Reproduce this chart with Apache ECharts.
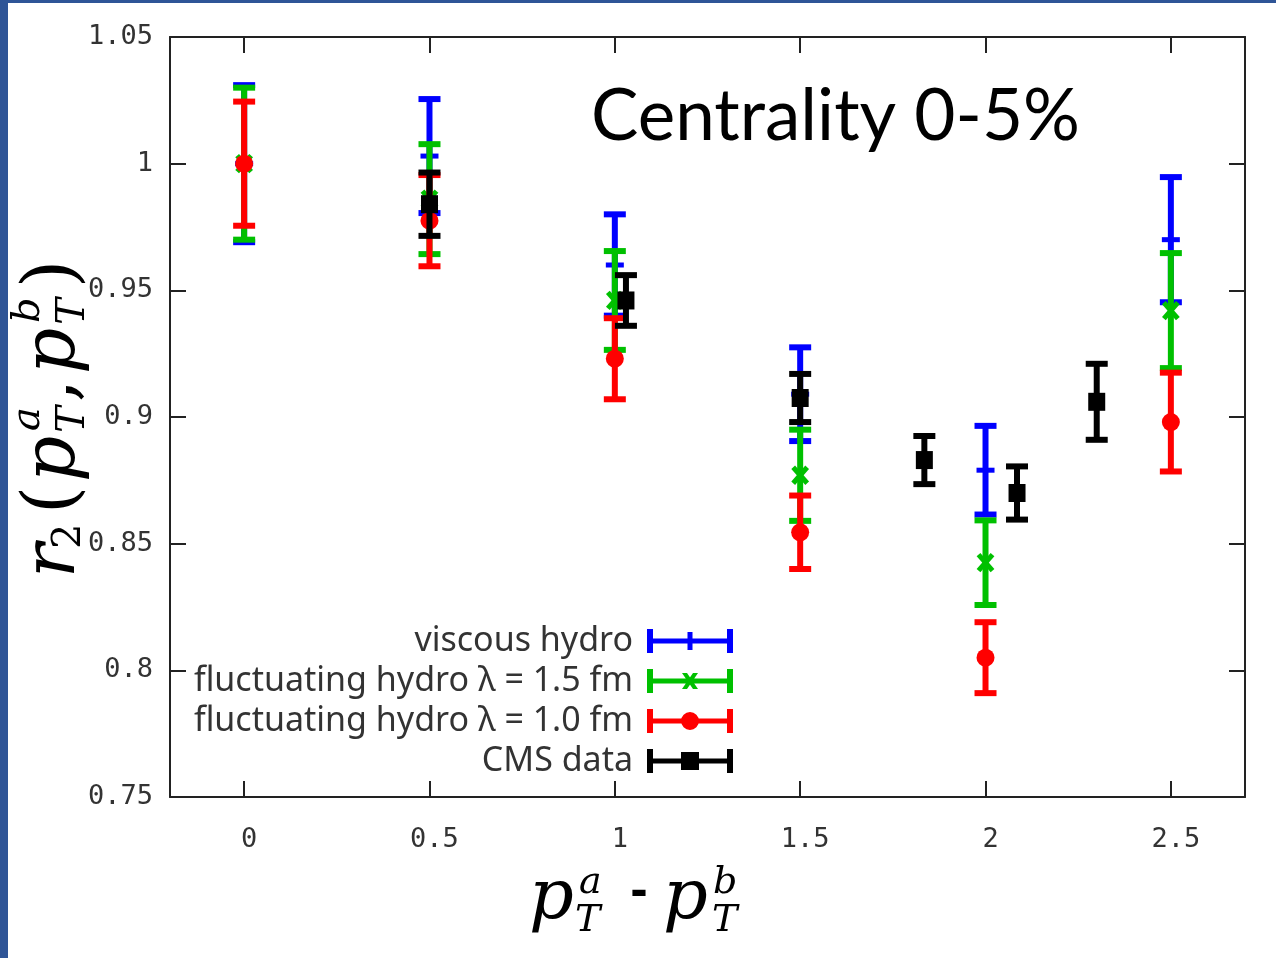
<!DOCTYPE html>
<html>
<head>
<meta charset="utf-8">
<script src="https://cdn.jsdelivr.net/npm/echarts@6/dist/echarts.min.js"></script>
<style>
html,body{margin:0;padding:0;background:#fff;}
#c{width:1276px;height:958px;}
</style>
</head>
<body>
<div id="c"></div>
<script>
// ---- data ----
var xModel = [0, 0.5, 1, 1.5, 2, 2.5];
var viscousVal = [1.000, 1.003, 0.960, 0.909, 0.879, 0.970];
var viscousErr = [0.031, 0.0225, 0.020, 0.0185, 0.0175, 0.0247];
var fluct15Val = [1.000, 0.986, 0.946, 0.877, 0.8425, 0.942];
var fluct15Err = [0.030, 0.0217, 0.0195, 0.018, 0.0167, 0.0227];
var fluct10Val = [1.000, 0.9775, 0.923, 0.8545, 0.805, 0.898];
var fluct10Err = [0.0245, 0.018, 0.016, 0.0145, 0.014, 0.0195];
var cmsX = [0.5, 1.03, 1.5, 1.835, 2.085, 2.3];
var cmsVal = [0.984, 0.946, 0.9075, 0.883, 0.870, 0.906];
var cmsErr = [0.0125, 0.010, 0.0095, 0.0095, 0.0105, 0.015];
var xTicks = [0, 0.5, 1, 1.5, 2, 2.5];
var seriesNames = ['viscous hydro', 'fluctuating hydro \u03bb = 1.5 fm', 'fluctuating hydro \u03bb = 1.0 fm', 'CMS data'];
var titleText = 'Centrality 0-5%';

function pack(xs, vs, es) {
  return xs.map(function (x, i) { return [x, vs[i], es[i]]; });
}

function errRender(color, mark, capW, lw) {
  return function (params, api) {
    var x = api.value(0), y = api.value(1), e = api.value(2);
    var c = api.coord([x, y]), hi = api.coord([x, y + e]), lo = api.coord([x, y - e]);
    var st = { stroke: color, lineWidth: lw };
    var ch = [
      { type: 'line', shape: { x1: c[0], y1: hi[1], x2: c[0], y2: lo[1] }, style: st },
      { type: 'line', shape: { x1: c[0] - capW, y1: hi[1], x2: c[0] + capW, y2: hi[1] }, style: st },
      { type: 'line', shape: { x1: c[0] - capW, y1: lo[1], x2: c[0] + capW, y2: lo[1] }, style: st }
    ];
    if (mark === 'plus') {
      ch.push({ type: 'line', shape: { x1: c[0] - 9, y1: c[1], x2: c[0] + 9, y2: c[1] }, style: { stroke: color, lineWidth: 5 } });
    } else if (mark === 'cross') {
      ch.push({ type: 'line', shape: { x1: c[0] - 7, y1: c[1] - 8, x2: c[0] + 7, y2: c[1] + 8 }, style: { stroke: color, lineWidth: 5 } });
      ch.push({ type: 'line', shape: { x1: c[0] + 7, y1: c[1] - 8, x2: c[0] - 7, y2: c[1] + 8 }, style: { stroke: color, lineWidth: 5 } });
    } else if (mark === 'circle') {
      ch.push({ type: 'circle', shape: { cx: c[0], cy: c[1], r: 9 }, style: { fill: color } });
    } else if (mark === 'square') {
      ch.push({ type: 'rect', shape: { x: c[0] - 8.5, y: c[1] - 9, width: 17, height: 18 }, style: { fill: color } });
    }
    return { type: 'group', children: ch };
  };
}

var capPath = 'M0,0h6v24h-6z M80,0h6v24h-6z M0,9.5h86v5h-86z ';
var icons = [
  'path://' + capPath + 'M40.5,3h5v18h-5z',
  'path://' + capPath + 'M35,4h5l11,16h-5z M46,4h5l-11,16h-5z',
  'path://' + capPath + 'M34,12a9,9 0 1,1 18,0a9,9 0 1,1 -18,0z',
  'path://' + capPath + 'M34,3h18v18h-18z'
];

function T(s, x, base, size, opt) {
  opt = opt || {};
  return {
    type: 'text', x: x, y: base - 0.21 * size,
    style: {
      text: s, fontSize: size,
      fontFamily: opt.family || 'DejaVu Serif',
      fontStyle: opt.italic === false ? 'normal' : 'italic',
      fontWeight: opt.weight || 'normal',
      fill: '#000', align: opt.align || 'left', verticalAlign: 'middle'
    }
  };
}

var F = 72, S = 40;
var yLabel = {
  type: 'group', x: 70, y: 578, rotation: Math.PI / 2, z: 50,
  children: [
    T('r', 0, 0, F),
    T('2', 29, 8, S, { italic: false }),
    T('(', 64, 0, F, { italic: false }),
    T('p', 96, 0, F),
    T('a', 147, -33, S),
    T('T', 145, 12, S),
    T(',', 176, 0, F, { italic: false }),
    T('p', 204, 0, F),
    T('b', 255, -33, S),
    T('T', 253, 12, S),
    T(')', 290, 0, F, { italic: false })
  ]
};
var xLabel = {
  type: 'group', x: 0, y: 0, z: 50,
  children: [
    T('p', 529, 915, 70),
    T('a', 579, 891, 38),
    T('T', 575, 929, 38),
    T('-', 639, 902, 50, { italic: false, family: 'Noto Sans', weight: 'bold', align: 'center' }),
    T('p', 663, 915, 70),
    T('b', 713, 891, 38),
    T('T', 712, 929, 38)
  ]
};

var axisCol = '#222';
var tickFont = { fontFamily: 'DejaVu Sans Mono', fontSize: 27, color: '#333' };

var chart = echarts.init(document.getElementById('c'), null, { renderer: 'canvas' });
chart.setOption({
  animation: false,
  backgroundColor: '#fff',
  grid: { left: 170, right: 31, top: 37, bottom: 161, containLabel: false },
  xAxis: [{
    type: 'value', min: -0.2, max: 2.7, position: 'bottom',
    axisLine: { show: true, onZero: false, lineStyle: { color: axisCol, width: 2 } },
    axisTick: { show: true, inside: true, length: 16, customValues: xTicks, lineStyle: { color: axisCol, width: 2 } },
    axisLabel: Object.assign({ show: true, margin: 29, customValues: xTicks, padding: [0, 0, 0, 10] }, tickFont),
    splitLine: { show: false }
  }, {
    type: 'value', min: -0.2, max: 2.7, position: 'top',
    axisLine: { show: true, onZero: false, lineStyle: { color: axisCol, width: 2 } },
    axisTick: { show: true, inside: true, length: 16, customValues: xTicks, lineStyle: { color: axisCol, width: 2 } },
    axisLabel: { show: false },
    splitLine: { show: false }
  }],
  yAxis: [{
    type: 'value', min: 0.75, max: 1.05, interval: 0.05, position: 'left',
    axisLine: { show: true, onZero: false, lineStyle: { color: axisCol, width: 2 } },
    axisTick: { show: true, inside: true, length: 16, lineStyle: { color: axisCol, width: 2 } },
    axisLabel: Object.assign({ show: true, margin: 17, padding: [8, 0, 0, 0] }, tickFont),
    splitLine: { show: false }
  }, {
    type: 'value', min: 0.75, max: 1.05, interval: 0.05, position: 'right',
    axisLine: { show: true, onZero: false, lineStyle: { color: axisCol, width: 2 } },
    axisTick: { show: true, inside: true, length: 16, lineStyle: { color: axisCol, width: 2 } },
    axisLabel: { show: false },
    splitLine: { show: false }
  }],
  legend: {
    orient: 'vertical', right: 543, top: 624, align: 'right', padding: 0,
    itemWidth: 86, itemHeight: 24, itemGap: 6,
    textStyle: { fontFamily: 'Noto Sans', fontSize: 34, color: '#333', padding: [0, 9, 0, 0] },
    data: seriesNames.map(function (n, i) { return { name: n, icon: icons[i] }; })
  },
  graphic: [
    { type: 'rect', shape: { x: 0, y: 0, width: 8, height: 958 }, style: { fill: '#2F5597' }, z: 100 },
    { type: 'rect', shape: { x: 0, y: 0, width: 1276, height: 3 }, style: { fill: '#2F5597' }, z: 100 },
    { type: 'text', x: 591, y: 142 - 0.35 * 71, z: 50,
      style: { text: titleText, fontFamily: 'Lato', fontSize: 71, fill: '#000', align: 'left', verticalAlign: 'middle' } },
    yLabel, xLabel
  ],
  series: [
    { type: 'custom', name: seriesNames[0], z: 2, itemStyle: { color: '#0000ff' },
      renderItem: errRender('#0000ff', 'plus', 11, 6), encode: { x: 0, y: 1 },
      data: pack(xModel, viscousVal, viscousErr) },
    { type: 'custom', name: seriesNames[1], z: 3, itemStyle: { color: '#00c000' },
      renderItem: errRender('#00c000', 'cross', 11, 6), encode: { x: 0, y: 1 },
      data: pack(xModel, fluct15Val, fluct15Err) },
    { type: 'custom', name: seriesNames[2], z: 4, itemStyle: { color: '#ff0000' },
      renderItem: errRender('#ff0000', 'circle', 11, 6), encode: { x: 0, y: 1 },
      data: pack(xModel, fluct10Val, fluct10Err) },
    { type: 'custom', name: seriesNames[3], z: 5, itemStyle: { color: '#000000' },
      renderItem: errRender('#000000', 'square', 11, 6), encode: { x: 0, y: 1 },
      data: pack(cmsX, cmsVal, cmsErr) }
  ]
});
</script>
</body>
</html>
